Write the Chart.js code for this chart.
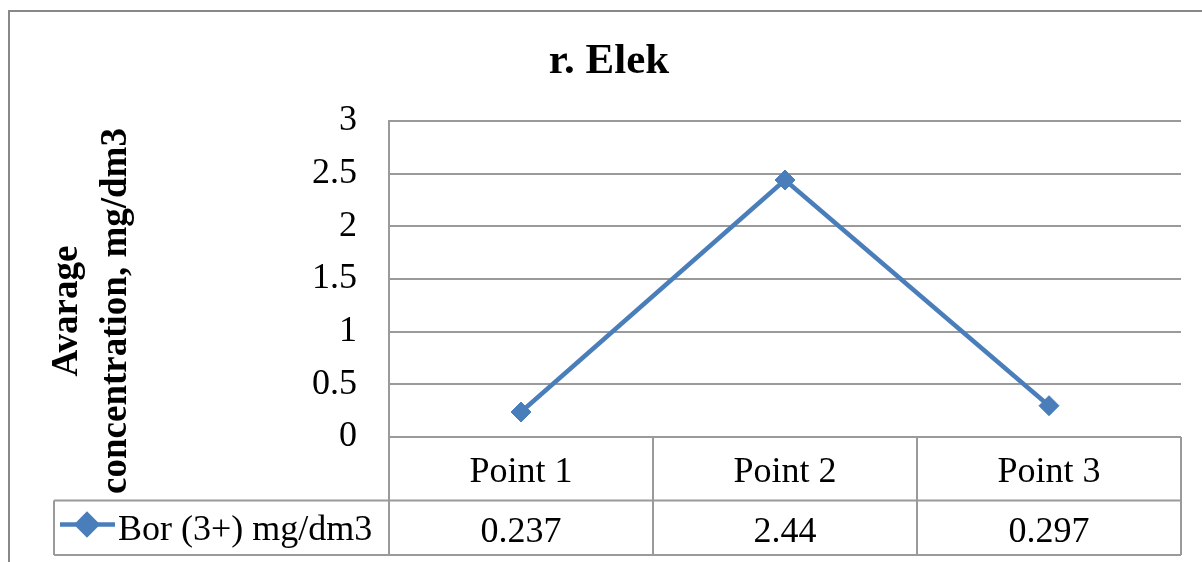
<!DOCTYPE html>
<html>
<head>
<meta charset="utf-8">
<script src="https://cdn.jsdelivr.net/npm/chart.js@4/dist/chart.umd.min.js"></script>
<style>
html, body { margin: 0; padding: 0; background: #fff; }
#wrap { width: 1202px; height: 562px; }
</style>
</head>
<body>
<div id="wrap"><canvas id="c" width="1202" height="562"></canvas></div>
<script>
// ==================== DATA ====================
const categories = ['Point 1', 'Point 2', 'Point 3'];
const seriesName = 'Bor (3+) mg/dm3';
const boron      = [0.237, 2.44, 0.297];
const tableVals  = ['0.237', '2.44', '0.297'];
const yTitle     = ['Avarage', 'concentration, mg/dm3'];
const chartTitle = 'r. Elek';

const SERIF = "'Liberation Serif', 'Times New Roman', serif";
const BLUE  = '#4A7EBB';
const GRID  = '#9a9a9a';

// white page + outer chart frame (cut off at the right/bottom like the source)
const framePlugin = {
  id: 'frame',
  beforeDraw(chart) {
    const ctx = chart.ctx;
    ctx.save();
    ctx.fillStyle = '#fff';
    ctx.fillRect(0, 0, chart.width, chart.height);
    ctx.strokeStyle = '#888';
    ctx.lineWidth = 2;
    ctx.strokeRect(9, 11, chart.width + 20, chart.height + 20);
    ctx.restore();
  }
};

// Excel-style data table under the plot, columns taken from the x scale
const tablePlugin = {
  id: 'dataTable',
  afterDraw(chart) {
    const ctx = chart.ctx, x = chart.scales.x, a = chart.chartArea;
    const colW = x.getPixelForValue(1) - x.getPixelForValue(0);
    const top = a.bottom, mid = a.bottom + 63.5, bot = a.bottom + 118;
    const legL = 54;
    ctx.save();
    ctx.strokeStyle = GRID;
    ctx.lineWidth = 2;
    ctx.beginPath();
    ctx.moveTo(legL, mid); ctx.lineTo(a.right, mid);
    ctx.moveTo(legL, bot); ctx.lineTo(a.right, bot);
    ctx.moveTo(legL, mid); ctx.lineTo(legL, bot);
    ctx.moveTo(a.left, top); ctx.lineTo(a.left, bot);
    categories.forEach((c, i) => {
      const r = x.getPixelForValue(i) + colW / 2;
      ctx.moveTo(r, top); ctx.lineTo(r, bot);
    });
    ctx.stroke();

    ctx.fillStyle = '#000';
    ctx.font = '36px ' + SERIF;
    ctx.textAlign = 'center';
    ctx.textBaseline = 'alphabetic';
    categories.forEach((c, i) => {
      const cx = x.getPixelForValue(i);
      ctx.fillText(c, cx, top + 45);
      ctx.fillText(tableVals[i], cx, mid + 41);
    });

    // legend key
    const ky = mid + 24;
    ctx.strokeStyle = BLUE;
    ctx.lineWidth = 4.5;
    ctx.beginPath();
    ctx.moveTo(60, ky); ctx.lineTo(115, ky);
    ctx.stroke();
    ctx.fillStyle = BLUE;
    Chart.helpers.drawPoint(ctx, { pointStyle: 'rectRot', radius: 10, borderWidth: 1 }, 87, ky);
    ctx.fillStyle = '#000';
    ctx.textAlign = 'left';
    ctx.fillText(seriesName, 118, mid + 39);
    ctx.restore();
  }
};

// two-line rotated y axis title
const yTitlePlugin = {
  id: 'yTitle',
  afterDraw(chart) {
    const ctx = chart.ctx;
    ctx.save();
    ctx.translate(0, 311);
    ctx.rotate(-Math.PI / 2);
    ctx.fillStyle = '#000';
    ctx.font = 'bold 37px ' + SERIF;
    ctx.textAlign = 'center';
    ctx.textBaseline = 'alphabetic';
    ctx.fillText(yTitle[0], 0, 77);
    ctx.fillText(yTitle[1], 0, 126);
    ctx.restore();
  }
};

new Chart(document.getElementById('c'), {
  type: 'line',
  data: {
    labels: categories,
    datasets: [{
      label: seriesName,
      data: boron,
      borderColor: BLUE,
      backgroundColor: BLUE,
      borderWidth: 4.5,
      pointStyle: 'rectRot',
      pointRadius: 10,
      pointHoverRadius: 10,
      pointBorderWidth: 1,
      tension: 0
    }]
  },
  options: {
    responsive: false,
    animation: false,
    layout: { padding: { left: 37, right: 21, top: 0, bottom: 125 } },
    plugins: {
      legend: { display: false },
      tooltip: { enabled: false },
      title: {
        display: true, text: chartTitle, color: '#000',
        font: { family: SERIF, size: 43, weight: 'bold' },
        padding: { top: 36, bottom: 33.4 }
      }
    },
    scales: {
      x: { display: false, offset: true },
      y: {
        min: 0, max: 3,
        afterFit: s => { s.width = 352; },
        ticks: {
          stepSize: 0.5, padding: 32, color: '#000',
          font: { family: SERIF, size: 36 },
          callback: v => String(v)
        },
        grid: { color: GRID, lineWidth: 2, drawTicks: false },
        border: { display: true, color: GRID, width: 2 }
      }
    }
  },
  plugins: [framePlugin, tablePlugin, yTitlePlugin]
});
</script>
</body>
</html>
